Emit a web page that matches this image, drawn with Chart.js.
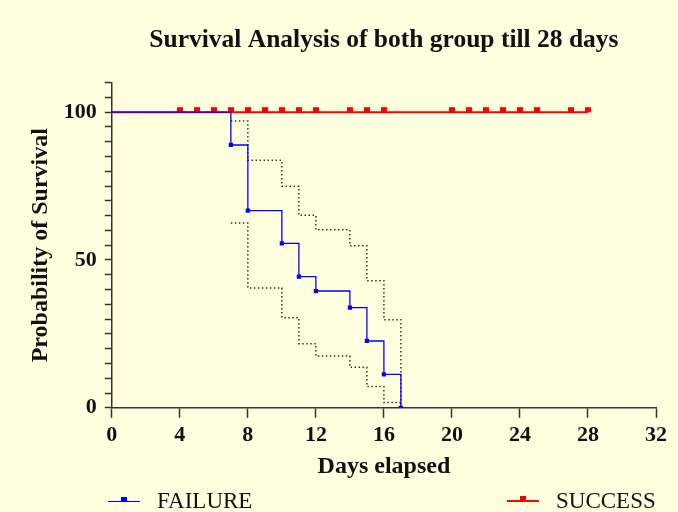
<!DOCTYPE html>
<html>
<head>
<meta charset="utf-8">
<script src="https://cdn.jsdelivr.net/npm/chart.js@4.4.0/dist/chart.umd.min.js"></script>
<style>
  html, body { margin: 0; padding: 0; background: #ffffe0; }
  #wrap { position: relative; width: 678px; height: 512px; }
  .leg { position: absolute; top: 488px; font: 23px "Liberation Serif", serif; color: #111; display: flex; align-items: center; }
  .leg .sym { position: relative; width: 32px; height: 2px; margin-right: 17px; }
  .leg .sym i { position: absolute; left: 13px; top: -4px; width: 6px; height: 5px; }
</style>
</head>
<body>
<div id="wrap">
  <canvas id="chart" width="678" height="512"></canvas>
  <div class="leg" id="legFail" style="left:108px"><span class="sym" style="background:#0000ff;height:1px"><i style="background:#0000ff"></i></span><span id="labFail"></span></div>
  <div class="leg" id="legSucc" style="left:507px"><span class="sym" style="background:#ff0000"><i style="background:#ff0000"></i></span><span id="labSucc"></span></div>
</div>
<script>
// Kaplan-Meier data (days, % surviving)
const failureDays = [0, 7, 8, 10, 11, 12, 14, 15, 16, 17];
const failureSurv = [100, 88.9, 66.7, 55.6, 44.4, 39.5, 33.9, 22.6, 11.3, 0];

const upperDays = [7, 8, 10, 11, 12, 14, 15, 16, 17];
const upperCI = [97.0, 83.7, 74.9, 65.1, 60.2, 54.8, 43.0, 29.8, 0];
const lowerDays = [7, 8, 10, 11, 12, 14, 15, 16, 17];
const lowerCI = [62.5, 40.5, 30.5, 21.7, 17.5, 13.7, 7.2, 1.8, 1.8];

// success group: nobody died, censored on these days
const successDays = [0, 4, 5, 6, 7, 8, 9, 10, 11, 12, 14, 15, 16, 20, 21, 22, 23, 24, 25, 27, 28];
const successSurv = successDays.map(() => 100);

const xTicks = [0, 4, 8, 12, 16, 20, 24, 28, 32];
const yLabels = [0, 50, 100];

const groupLabels = ["FAILURE", "SUCCESS"];
const titleText = "Survival Analysis of both group till 28 days";

const serif = '"Liberation Serif", "Times New Roman", serif';

// censor mark: small square sitting on top of the line
const censorMark = document.createElement("canvas");
censorMark.width = 6;
censorMark.height = 12;
const cm = censorMark.getContext("2d");
cm.fillStyle = "#ff0000";
cm.fillRect(0, 1, 6, 5);

const toXY = (xs, ys) => xs.map((x, i) => ({ x: x, y: ys[i] }));

document.getElementById("labFail").textContent = groupLabels[0];
document.getElementById("labSucc").textContent = groupLabels[1];

new Chart(document.getElementById("chart"), {
  type: "line",
  data: {
    datasets: [
      {
        label: groupLabels[0],
        data: toXY(failureDays, failureSurv),
        borderColor: "#0000ff",
        backgroundColor: "#0000ff",
        borderWidth: 1.3,
        stepped: "before",
        pointStyle: "rect",
        pointRadius: failureDays.map((d) => (d === 0 ? 0 : 3)),
        pointBorderWidth: 0,
      },
      {
        label: groupLabels[1],
        data: toXY(successDays, successSurv),
        borderColor: "#ff0000",
        borderWidth: 2,
        pointStyle: successDays.map((d) => (d === 0 ? false : censorMark)),
        pointRadius: 4,
      },
      {
        label: "upper",
        data: toXY(upperDays, upperCI),
        borderColor: "#333",
        borderWidth: 1.5,
        borderDash: [1.5, 2.5],
        stepped: "before",
        pointRadius: 0,
      },
      {
        label: "lower",
        data: toXY(lowerDays, lowerCI),
        borderColor: "#333",
        borderWidth: 1.5,
        borderDash: [1.5, 2.5],
        stepped: "before",
        pointRadius: 0,
      },
    ],
  },
  options: {
    responsive: false,
    animation: false,
    layout: { padding: { top: 6, right: 22, bottom: 31, left: 26 } },
    plugins: {
      legend: { display: false },
      tooltip: { enabled: false },
      title: {
        display: true,
        text: titleText,
        fullSize: false,
        color: "#111",
        font: { family: serif, size: 25.5, weight: "bold" },
        padding: { top: 19, bottom: 27 },
      },
    },
    scales: {
      x: {
        type: "linear",
        min: 0,
        max: 32,
        afterBuildTicks: (s) => { s.ticks = xTicks.map((v) => ({ value: v })); },
        ticks: { color: "#111", font: { family: serif, size: 22, weight: "bold" }, padding: 4 },
        grid: { drawOnChartArea: false, tickLength: 10, color: "#333", tickWidth: 1.5 },
        border: { color: "#333", width: 1.5 },
        title: {
          display: true,
          text: "Days elapsed",
          color: "#111",
          font: { family: serif, size: 24, weight: "bold" },
          padding: { top: 0, bottom: 0 },
        },
      },
      y: {
        min: 0,
        max: 110,
        ticks: {
          stepSize: 5,
          autoSkip: false,
          color: "#111",
          font: { family: serif, size: 22, weight: "bold" },
          padding: 8,
          callback: (v) => (yLabels.includes(v) ? v : ""),
        },
        grid: { drawOnChartArea: false, tickLength: 7, color: "#333", tickWidth: 1.5 },
        border: { color: "#333", width: 1.5 },
        title: {
          display: true,
          text: "Probability of Survival",
          color: "#111",
          font: { family: serif, size: 24, weight: "bold" },
          padding: { top: 0, bottom: 1 },
        },
      },
    },
  },
  plugins: [
    {
      id: "bg",
      beforeDraw: (chart) => {
        const ctx = chart.ctx;
        ctx.save();
        ctx.fillStyle = "#ffffe0";
        ctx.fillRect(0, 0, chart.width, chart.height);
        ctx.restore();
      },
    },
  ],
});
</script>
</body>
</html>
